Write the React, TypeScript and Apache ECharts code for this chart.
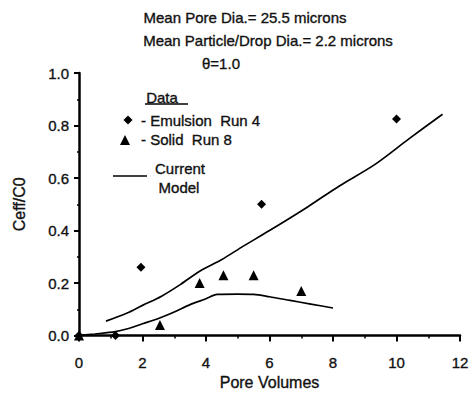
import React, { useEffect, useRef } from "react";
import * as echarts from "echarts";

// Measured breakthrough data
const emulsionX = [0, 1.15, 1.95, 5.75, 10.0];
const emulsionY = [0, 0, 0.26, 0.5, 0.825];
const solidX = [0, 2.55, 3.8, 4.55, 5.5, 7.0];
const solidY = [0, 0.04, 0.2, 0.23, 0.23, 0.17];

// Model curves
const modelUpperX = [0.85, 1.5, 2.0, 2.6, 3.2, 3.8, 4.5, 5.1, 6.0, 7.2, 8.2, 9.3, 10.4, 11.45];
const modelUpperY = [0.055, 0.085, 0.115, 0.15, 0.195, 0.245, 0.29, 0.335, 0.4, 0.49, 0.57, 0.65, 0.75, 0.843];
const modelLowerX = [0, 0.5, 1.15, 1.5, 2.0, 2.5, 3.0, 3.5, 4.0, 4.35, 5.0, 5.5, 6.0, 6.65, 7.3, 8.0];
const modelLowerY = [0, 0.006, 0.015, 0.025, 0.045, 0.065, 0.09, 0.118, 0.14, 0.157, 0.158, 0.157, 0.148, 0.134, 0.12, 0.105];

const xTicks = { min: 0, max: 12, step: 2 };
const yTicks = { min: 0, max: 1, step: 0.2 };

const titleLines = [
  "Mean Pore Dia.= 25.5 microns",
  "Mean Particle/Drop Dia.= 2.2 microns",
  "\u03b8=1.0",
];
const xName = "Pore Volumes";
const yName = "Ceff/C0";
const legendHead = "Data";
const legendEmulsion = "- Emulsion  Run 4";
const legendSolid = "- Solid  Run 8";
const legendModel = ["Current", "Model"];

const FONT = "'Liberation Sans', Arial, Helvetica, sans-serif";

const zip = (xs: number[], ys: number[]) => xs.map((x, i) => [x, ys[i]]);

export default function App() {
  const ref = useRef<HTMLDivElement>(null);

  useEffect(() => {
    if (!ref.current) return;
    const chart = echarts.init(ref.current, null, { renderer: "svg" });
    const txt = (text: string, x: number, y: number, size = 15, align = "center") => ({
      type: "text",
      x,
      y,
      style: {
        text,
        fontSize: size,
        fontFamily: FONT,
        fill: "#111",
        stroke: "#111",
        lineWidth: 0.35,
        align,
        verticalAlign: "middle",
      },
    });
    const axisText = { fontFamily: FONT, color: "#111", textBorderColor: "#111", textBorderWidth: 0.35 };
    chart.setOption({
      animation: false,
      backgroundColor: "#fff",
      grid: { left: 79, right: 14, top: 73, bottom: 55 },
      xAxis: {
        type: "value",
        min: xTicks.min,
        max: xTicks.max,
        interval: xTicks.step,
        name: xName,
        nameLocation: "middle",
        nameGap: 38,
        nameTextStyle: { fontSize: 16, ...axisText },
        axisLine: { lineStyle: { color: "#000", width: 2.5 } },
        axisTick: { length: 6, lineStyle: { color: "#000", width: 2 } },
        minorTick: { show: true, splitNumber: 2, length: 3, lineStyle: { color: "#000", width: 1.5 } },
        splitLine: { show: false },
        axisLabel: { fontSize: 15, ...axisText, margin: 19 },
      },
      yAxis: {
        type: "value",
        min: yTicks.min,
        max: yTicks.max,
        interval: yTicks.step,
        name: yName,
        nameLocation: "middle",
        nameGap: 52,
        nameRotate: 90,
        nameTextStyle: { fontSize: 16, ...axisText },
        axisLine: { lineStyle: { color: "#000", width: 2.5 } },
        axisTick: { length: 5, lineStyle: { color: "#000", width: 2 } },
        minorTick: { show: true, splitNumber: 2, length: 2, lineStyle: { color: "#000", width: 1.5 } },
        splitLine: { show: false },
        axisLabel: {
          fontSize: 15,
          ...axisText,
          margin: 10,
          formatter: (v: number) => v.toFixed(1),
        },
      },
      series: [
        {
          type: "line",
          data: zip(modelUpperX, modelUpperY),
          showSymbol: false,
          smooth: 0.3,
          lineStyle: { color: "#000", width: 1.7 },
        },
        {
          type: "line",
          data: zip(modelLowerX, modelLowerY),
          showSymbol: false,
          smooth: 0.3,
          lineStyle: { color: "#000", width: 1.7 },
        },
        {
          name: "Emulsion Run 4",
          type: "scatter",
          data: zip(emulsionX, emulsionY),
          symbol: "diamond",
          symbolSize: 9,
          itemStyle: { color: "#000", opacity: 1 },
          z: 3,
        },
        {
          name: "Solid Run 8",
          type: "scatter",
          data: zip(solidX, solidY),
          symbol: "triangle",
          symbolSize: 10,
          itemStyle: { color: "#000", opacity: 1 },
          z: 3,
        },
      ],
      graphic: [
        txt(titleLines[0], 245, 17),
        txt(titleLines[1], 268, 40),
        txt(titleLines[2], 221, 63),
        txt(legendHead, 162, 97),
        { type: "line", shape: { x1: 145, y1: 104, x2: 188, y2: 104 }, style: { stroke: "#000", lineWidth: 1.5 } },
        {
          type: "polygon",
          shape: { points: [[128, 115.5], [132.5, 120], [128, 124.5], [123.5, 120]] },
          style: { fill: "#000" },
        },
        txt(legendEmulsion, 141, 120, 15, "left"),
        {
          type: "polygon",
          shape: { points: [[125, 135], [130, 145], [120, 145]] },
          style: { fill: "#000" },
        },
        txt(legendSolid, 141, 139, 15, "left"),
        { type: "line", shape: { x1: 113, y1: 176, x2: 147, y2: 176 }, style: { stroke: "#000", lineWidth: 1.7 } },
        txt(legendModel[0], 180, 168),
        txt(legendModel[1], 179, 187),
      ],
    });
    return () => chart.dispose();
  }, []);

  return <div ref={ref} style={{ position: "absolute", left: 0, top: 0, width: 474, height: 396 }} />;
}
